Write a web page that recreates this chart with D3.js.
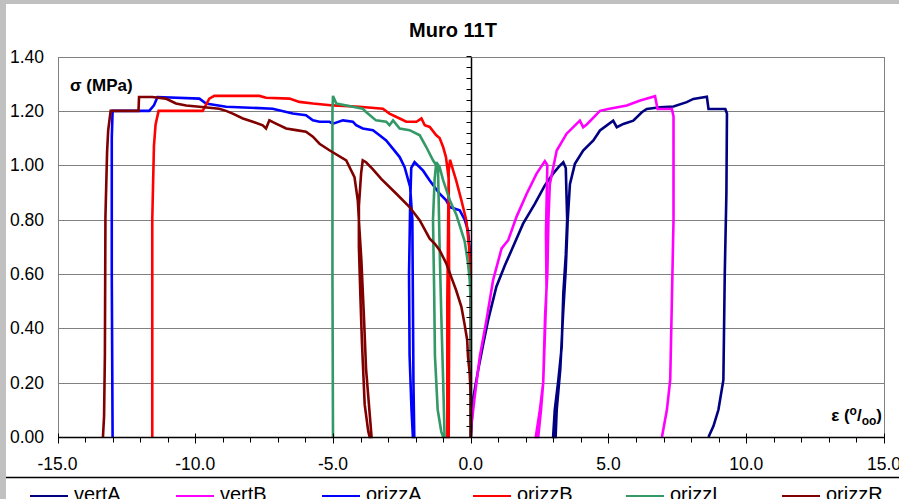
<!DOCTYPE html>
<html>
<head>
<meta charset="utf-8">
<script src="https://cdn.jsdelivr.net/npm/d3@7"></script>
<style>
  html, body { margin: 0; padding: 0; background: #c0c0c0; }
  svg { display: block; font-family: "Liberation Sans", Arial, sans-serif; }
</style>
</head>
<body>
<svg id="chart" width="899" height="499"></svg>
<script>
// Muro 11T – stress (MPa) vs strain (‰) for the six gauges
const chartTitle = "Muro 11T";
const xTicks = [-15, -10, -5, 0, 5, 10, 15];
const yTicks = [0, 0.2, 0.4, 0.6, 0.8, 1.0, 1.2, 1.4];
const seriesNames = ["vertA", "vertB", "orizzA", "orizzB", "orizzL", "orizzR"];
const seriesColors = ["#000080", "#FF00FF", "#0000FF", "#FF0000", "#339966", "#800000"];

// [strain ‰, stress MPa]
const vertA = [[0,0],[0.08,0.137],[0.27,0.247],[0.45,0.34],[0.63,0.43],[0.93,0.553],[1.24,0.632],[1.48,0.687],
  [1.9,0.785],[2.33,0.859],[2.69,0.926],[2.99,0.969],[3.2,0.995],[3.36,1.011],[3.45,0.99],[3.47,0.91],[3.5,0.80],
  [3.45,0.67],[3.36,0.53],[3.30,0.33],[3.18,0.21],[3.05,0.10],[2.99,0],
  [3.08,0],[3.12,0.1],[3.25,0.25],[3.35,0.45],[3.45,0.62],[3.52,0.8],[3.6,0.93],[3.78,1.005],[4.08,1.054],
  [4.45,1.091],[4.69,1.128],[5.17,1.164],[5.3,1.14],[5.54,1.152],[5.9,1.164],[6.21,1.195],[6.39,1.207],
  [6.87,1.213],[7.36,1.216],[7.84,1.232],[8.08,1.244],[8.57,1.252],[8.63,1.207],[9.24,1.207],[9.30,1.19],
  [9.28,0.9],[9.22,0.6],[9.17,0.21],[8.99,0.10],[8.81,0.04],[8.63,0]];

const vertB = [[0,0],[0.02,0.04],[0.145,0.15],[0.33,0.296],[0.57,0.43],[0.81,0.577],[1.12,0.694],[1.36,0.724],
  [1.66,0.81],[2.03,0.895],[2.39,0.969],[2.69,1.015],[2.78,1.0],[2.76,0.9],[2.73,0.75],[2.75,0.55],[2.7,0.4],
  [2.63,0.2],[2.51,0.1],[2.36,0],
  [2.45,0],[2.55,0.1],[2.63,0.2],[2.7,0.45],[2.78,0.6],[2.82,0.8],[2.87,0.93],[3.12,1.054],[3.48,1.116],
  [3.84,1.152],[3.96,1.164],[4.08,1.14],[4.21,1.15],[4.69,1.2],[4.99,1.207],[5.66,1.22],[6.15,1.238],
  [6.69,1.254],[6.78,1.207],[7.30,1.207],[7.36,1.18],[7.36,0.8],[7.30,0.5],[7.24,0.21],[7.12,0.10],[6.94,0]];

const orizzA = [[0,0],[0,0.3],[0,0.65],[-0.1,0.76],[-0.22,0.80],[-0.4,0.834],[-0.76,0.846],[-0.89,0.871],
  [-1.13,0.895],[-1.49,0.944],[-1.73,0.98],[-2.04,1.011],[-2.16,0.99],[-2.2,0.85],[-2.24,0.6],[-2.22,0.3],
  [-2.15,0.1],[-2.1,0],
  [-2.05,0],[-2.08,0.2],[-2.1,0.5],[-2.12,0.8],[-2.2,0.92],[-2.4,0.993],[-2.58,1.03],[-2.82,1.06],
  [-3.07,1.091],[-3.31,1.11],[-3.55,1.129],[-3.92,1.135],[-4.16,1.147],[-4.28,1.16],[-4.64,1.165],
  [-5.0,1.153],[-5.13,1.16],[-5.49,1.16],[-5.73,1.165],[-5.98,1.184],[-6.46,1.19],[-7.19,1.208],
  [-8.88,1.215],[-9.61,1.227],[-9.85,1.245],[-11.37,1.251],[-11.5,1.22],[-11.67,1.20],[-13.0,1.20],
  [-13.03,1.1],[-13.03,0.6],[-13.0,0]];

const orizzB = [[0,0],[0,0.55],[-0.06,0.70],[-0.16,0.797],[-0.34,0.871],[-0.53,0.944],[-0.64,0.981],
  [-0.75,1.02],[-0.8,0.98],[-0.85,0.5],[-0.85,0],
  [-0.8,0],[-0.78,0.5],[-0.8,0.95],[-0.9,1.03],[-1.0,1.066],[-1.13,1.10],[-1.25,1.11],[-1.49,1.141],
  [-1.67,1.147],[-1.79,1.172],[-1.97,1.16],[-2.34,1.16],[-2.58,1.172],[-2.95,1.19],[-3.19,1.208],
  [-4.04,1.215],[-5.0,1.22],[-5.73,1.227],[-6.22,1.233],[-6.58,1.245],[-7.43,1.248],[-7.67,1.255],
  [-9.31,1.255],[-9.49,1.245],[-9.73,1.20],[-11.33,1.20],[-11.44,1.15],[-11.5,1.07],[-11.56,0.8],[-11.56,0]];

const orizzL = [[0,0],[0,0.5],[-0.04,0.58],[-0.1,0.64],[-0.22,0.72],[-0.53,0.82],[-0.76,0.871],[-1.0,0.944],
  [-1.13,0.993],[-1.25,1.011],[-1.31,0.95],[-1.37,0.80],[-1.33,0.55],[-1.3,0.3],[-1.2,0.1],[-1.07,0.02],[-1.0,0],
  [-0.95,0],[-1.0,0.2],[-1.07,0.45],[-1.13,0.7],[-1.17,0.9],[-1.19,0.99],[-1.37,1.018],[-1.61,1.066],
  [-1.85,1.11],[-2.22,1.129],[-2.58,1.135],[-2.82,1.165],[-2.95,1.147],[-3.07,1.16],[-3.44,1.165],
  [-3.8,1.196],[-3.92,1.208],[-4.28,1.215],[-4.88,1.227],[-5.0,1.255],[-5.02,1.2],[-5.02,0.6],[-5.0,0]];

const orizzR = [[0,0],[0,0.15],[-0.04,0.235],[-0.1,0.296],[-0.13,0.357],[-0.23,0.418],[-0.34,0.479],
  [-0.53,0.54],[-0.71,0.589],[-0.89,0.639],[-1.13,0.687],[-1.31,0.712],[-1.49,0.73],[-1.85,0.797],
  [-2.22,0.846],[-2.70,0.895],[-3.25,0.95],[-3.55,0.985],[-3.8,1.011],[-3.92,1.018],[-3.98,0.97],
  [-4.06,0.85],[-4.06,0.70],[-4.0,0.50],[-3.95,0.35],[-3.85,0.12],[-3.72,0.02],[-3.67,0],
  [-3.6,0],[-3.68,0.1],[-3.8,0.25],[-3.88,0.45],[-3.97,0.65],[-4.05,0.78],[-4.1,0.87],[-4.22,0.956],
  [-4.52,1.018],[-5.13,1.055],[-5.49,1.079],[-5.73,1.105],[-5.98,1.123],[-6.34,1.129],[-6.7,1.135],
  [-7.07,1.153],[-7.31,1.165],[-7.43,1.135],[-7.55,1.147],[-7.91,1.16],[-8.27,1.172],[-8.64,1.19],
  [-8.88,1.20],[-9.13,1.208],[-9.85,1.215],[-10.33,1.22],[-10.7,1.227],[-11.07,1.245],[-11.56,1.251],
  [-12.04,1.251],[-12.06,1.20],[-13.07,1.20],[-13.16,1.128],[-13.2,1.05],[-13.26,0.81],[-13.28,0.3],
  [-13.31,0.075],[-13.35,0]];

const seriesData = [vertA, vertB, orizzA, orizzB, orizzL, orizzR];

const svg = d3.select("#chart");
const W = 899, H = 499;

// window frame and white chart area
svg.append("rect").attr("x", 0).attr("y", 0).attr("width", W).attr("height", H).attr("fill", "#c0c0c0");
svg.append("rect").attr("x", 6).attr("y", 4).attr("width", W - 6).attr("height", H - 4).attr("fill", "#ffffff");

const plot = { left: 57.5, right: 884, top: 56.5, bottom: 437 };
const x = d3.scaleLinear().domain([-15, 15]).range([plot.left, plot.right]);
const y = d3.scaleLinear().domain([0, 1.4]).range([plot.bottom, plot.top]);
const px = v => Math.round(x(v)) + 0.5;
const py = v => Math.round(y(v)) + 0.5;

// title
svg.append("text").attr("x", 453).attr("y", 37).attr("text-anchor", "middle")
  .attr("font-size", 20).attr("font-weight", "bold").attr("fill", "#000").text(chartTitle);

// horizontal gridlines
svg.append("g").selectAll("line").data(yTicks.filter(t => t > 0 && t < 1.4)).join("line")
  .attr("x1", px(-15)).attr("x2", px(15)).attr("y1", d => py(d)).attr("y2", d => py(d))
  .attr("stroke", "#808080").attr("stroke-width", 1);

// plot frame
svg.append("rect").attr("x", px(-15)).attr("y", py(1.4))
  .attr("width", px(15) - px(-15)).attr("height", py(0) - py(1.4))
  .attr("fill", "none").attr("stroke", "#808080").attr("stroke-width", 1);

// y tick labels, placed at the left edge of the plot
svg.append("g").selectAll("text").data(yTicks).join("text")
  .attr("x", 44).attr("y", d => y(d) + 6).attr("text-anchor", "end")
  .attr("font-size", 17.5).attr("fill", "#000").text(d => d.toFixed(2));

// curves
const line = d3.line().x(d => x(d[0])).y(d => y(d[1]));
svg.append("g").selectAll("path").data(seriesData).join("path")
  .attr("d", line).attr("fill", "none")
  .attr("stroke", (d, i) => seriesColors[i]).attr("stroke-width", 2.6)
  .attr("stroke-linejoin", "miter").attr("stroke-miterlimit", 2);

// vertical axis through strain = 0 with minor ticks every 0.04
const yMinor = d3.range(0, 1.4001, 0.04);
const yAxisG = svg.append("g");
yAxisG.selectAll("line.tick").data(yMinor).join("line").attr("class", "tick")
  .attr("x1", px(0) - 5).attr("x2", px(0)).attr("y1", d => py(d)).attr("y2", d => py(d))
  .attr("stroke", "#000").attr("stroke-width", 1);
yAxisG.append("line").attr("x1", px(0)).attr("x2", px(0)).attr("y1", py(1.4)).attr("y2", py(0))
  .attr("stroke", "#000").attr("stroke-width", 1.5);

// horizontal axis with major ticks every 5 and minor every 1
const xMinor = d3.range(-15, 15.001, 1);
const xAxisG = svg.append("g");
xAxisG.append("line").attr("x1", px(-15)).attr("x2", px(15)).attr("y1", py(0)).attr("y2", py(0))
  .attr("stroke", "#000").attr("stroke-width", 1.5);
xAxisG.selectAll("line.minor").data(xMinor).join("line").attr("class", "minor")
  .attr("x1", d => px(d)).attr("x2", d => px(d))
  .attr("y1", d => py(0) - (d % 5 === 0 ? 4 : 0)).attr("y2", d => py(0) + (d % 5 === 0 ? 6 : 5))
  .attr("stroke", "#000").attr("stroke-width", 1);
xAxisG.selectAll("text").data(xTicks).join("text")
  .attr("x", d => x(d)).attr("y", 470).attr("text-anchor", "middle")
  .attr("font-size", 17.5).attr("fill", "#000").text(d => d.toFixed(1));

// axis titles
svg.append("text").attr("x", 70).attr("y", 91).attr("font-size", 17).attr("font-weight", "bold")
  .attr("fill", "#000").text("σ (MPa)");

const eps = svg.append("text").attr("x", 882).attr("y", 421).attr("text-anchor", "end")
  .attr("font-size", 17).attr("font-weight", "bold").attr("fill", "#000");
eps.append("tspan").text("ε (");
eps.append("tspan").attr("font-size", 12).attr("dy", -6).text("o");
eps.append("tspan").attr("dy", 6).text("/");
eps.append("tspan").attr("font-size", 12).attr("dy", 4).text("oo");
eps.append("tspan").attr("dy", -4).text(")");

// legend separator and legend
svg.append("line").attr("x1", 6).attr("x2", W).attr("y1", 477.5).attr("y2", 477.5)
  .attr("stroke", "#000").attr("stroke-width", 1.6);

const legendX = [30, 176, 322, 473, 626, 782];
const leg = svg.append("g").selectAll("g").data(seriesNames).join("g")
  .attr("transform", (d, i) => `translate(${legendX[i]},0)`);
leg.append("line").attr("x1", 0).attr("x2", 38).attr("y1", 496).attr("y2", 496)
  .attr("stroke", (d, i) => seriesColors[i]).attr("stroke-width", 2);
leg.append("text").attr("x", 44).attr("y", 501).attr("font-size", 20).attr("fill", "#000").text(d => d);
</script>
</body>
</html>
